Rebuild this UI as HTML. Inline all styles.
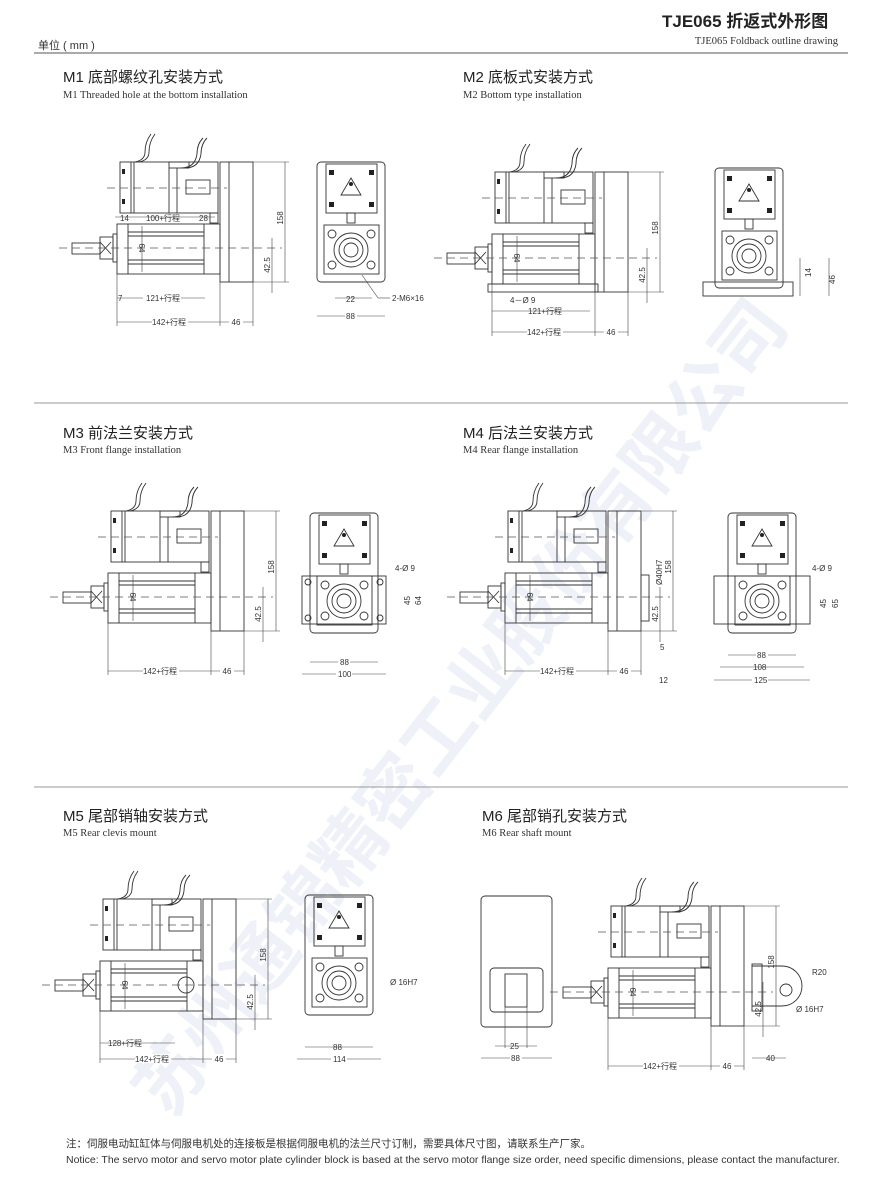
<!DOCTYPE html>
<html><head><meta charset="utf-8">
<style>
body{margin:0;background:#fff;}
svg{display:block;font-family:"Liberation Sans","Noto Sans CJK SC",sans-serif;}
.l{fill:none;stroke:#333;stroke-width:0.9}
.t{stroke:#444;stroke-width:0.6;fill:none}
.d{stroke:#555;stroke-width:0.7;stroke-dasharray:8 5;fill:none}
.s{font-size:8px;fill:#333}
.h{font-size:15px;fill:#222}
.e{font-family:"Liberation Serif",serif;font-size:10.5px;fill:#333}
</style></head><body>
<svg width="886" height="1183" viewBox="0 0 886 1183">
<defs>
<g id="side">
  <path class="l" d="M18,-86 q10,-2 10,-10 q0,-10 6,-18 M22,-86 q10,-2 10,-10 q0,-10 6,-18"/>
  <path class="l" d="M64,-80 q14,0 16,-14 q0,-10 6,-16 M68,-80 q14,0 16,-14 q0,-10 6,-16"/>
  <rect class="l" x="52" y="-86" width="20" height="6"/>
  <rect class="l" x="3" y="-86" width="98" height="51"/>
  <line class="l" x1="14" y1="-86" x2="14" y2="-35"/><line class="l" x1="17" y1="-86" x2="17" y2="-35"/>
  <line class="l" x1="52" y1="-80" x2="52" y2="-35"/><line class="l" x1="60" y1="-80" x2="60" y2="-35"/>
  <rect class="l" x="69" y="-68" width="24" height="14"/>
  <rect fill="#222" x="5" y="-79" width="3" height="5"/><rect fill="#222" x="5" y="-49" width="3" height="5"/>
  <rect class="l" x="93" y="-35" width="8" height="10"/>
  <rect class="l" x="103" y="-86" width="33" height="120"/>
  <line class="l" x1="112" y1="-86" x2="112" y2="34"/>
  <rect class="l" x="0" y="-24" width="103" height="50"/>
  <line class="l" x1="11" y1="-24" x2="11" y2="26"/>
  <line class="l" x1="11" y1="-16" x2="87" y2="-16"/><line class="l" x1="11" y1="-12" x2="87" y2="-12"/>
  <line class="l" x1="11" y1="12" x2="87" y2="12"/><line class="l" x1="11" y1="16" x2="87" y2="16"/>
  <line class="l" x1="87" y1="-24" x2="87" y2="26"/>
  <line class="t" x1="25" y1="-22" x2="25" y2="24"/>
  <text class="s" transform="translate(22,0) rotate(90)" text-anchor="middle">64</text>
  <rect class="l" x="-4" y="-14" width="4" height="28"/>
  <rect class="l" x="-17" y="-11" width="13" height="22"/>
  <path class="l" d="M-17,-6 L-6,6 M-17,6 L-6,-6"/>
  <rect class="l" x="-45" y="-5" width="28" height="11"/>
  <line class="d" x1="-58" y1="0" x2="165" y2="0"/>
  <line class="d" x1="-10" y1="-60" x2="110" y2="-60"/>
  <line class="t" x1="168" y1="-86" x2="168" y2="34"/>
  <line class="t" x1="136" y1="-86" x2="172" y2="-86"/><line class="t" x1="136" y1="34" x2="172" y2="34"/>
  <text class="s" transform="translate(166,-30) rotate(-90)" text-anchor="middle">158</text>
  <line class="t" x1="155" y1="-10" x2="155" y2="45"/>
  <text class="s" transform="translate(153,17) rotate(-90)" text-anchor="middle">42.5</text>
  <line class="t" x1="0" y1="26" x2="0" y2="78"/><line class="t" x1="103" y1="34" x2="103" y2="78"/><line class="t" x1="136" y1="34" x2="136" y2="78"/>
  <line class="t" x1="0" y1="74" x2="136" y2="74"/>
  <rect fill="#fff" x="35" y="69" width="36" height="9"/>
  <text class="s" x="52" y="77" text-anchor="middle">142+行程</text>
  <rect fill="#fff" x="112" y="69" width="14" height="9"/>
  <text class="s" x="119" y="77" text-anchor="middle">46</text>
</g>
<g id="front">
  <rect class="l" x="0" y="0" width="68" height="120" rx="4"/>
  <rect class="l" x="9" y="2" width="51" height="49"/>
  <path fill="#222" d="M12,8h5v5h-5zM52,8h5v5h-5zM12,40h5v5h-5zM52,40h5v5h-5z"/>
  <path class="l" d="M34,16 l10,17 h-20z"/>
  <circle fill="#222" cx="34" cy="22" r="2"/>
  <rect class="l" x="30" y="51" width="8" height="10"/>
  <rect class="l" x="7" y="63" width="55" height="49"/>
  <circle class="l" cx="15" cy="72" r="4"/><circle class="l" cx="54" cy="72" r="4"/>
  <circle class="l" cx="15" cy="103" r="4"/><circle class="l" cx="54" cy="103" r="4"/>
  <circle class="l" cx="34" cy="88" r="17"/><circle class="l" cx="34" cy="88" r="12"/><circle class="l" cx="34" cy="88" r="7"/>
</g>
</defs>

<text x="662" y="27" font-size="17" font-weight="bold" fill="#222">TJE065 折返式外形图</text>
<text x="838" y="44" text-anchor="end" class="e" font-size="10">TJE065  Foldback outline drawing</text>
<text x="38" y="49" font-size="11" fill="#333">单位 ( mm )</text>
<line x1="34" y1="53" x2="848" y2="53" stroke="#555" stroke-width="1"/>

<text x="0" y="0" transform="translate(170,1120) rotate(-52)" font-size="72" font-weight="bold" fill="#e3e8f5" opacity="0.6" font-family="'Noto Sans CJK SC',sans-serif">苏州通锦精密工业股份有限公司</text>

<text class="h" x="63" y="82">M1 底部螺纹孔安装方式</text><text class="e" x="63" y="98">M1 Threaded hole at the bottom installation</text>
<text class="h" x="463" y="82">M2 底板式安装方式</text><text class="e" x="463" y="98">M2 Bottom type installation</text>
<line x1="34" y1="403" x2="848" y2="403" stroke="#999" stroke-width="1"/>
<text class="h" x="63" y="438">M3 前法兰安装方式</text><text class="e" x="63" y="453">M3 Front flange installation</text>
<text class="h" x="463" y="438">M4 后法兰安装方式</text><text class="e" x="463" y="453">M4 Rear flange installation</text>
<line x1="34" y1="787" x2="848" y2="787" stroke="#999" stroke-width="1"/>
<text class="h" x="63" y="821">M5 尾部销轴安装方式</text><text class="e" x="63" y="836">M5 Rear clevis mount</text>
<text class="h" x="482" y="821">M6 尾部销孔安装方式</text><text class="e" x="482" y="836">M6 Rear shaft mount</text>

<use href="#side" transform="translate(117,248)"/>
<use href="#front" transform="translate(317,162)"/>
<text class="s" x="120" y="221">14</text><text class="s" x="146" y="221">100+行程</text><text class="s" x="199" y="221">28</text>
<line class="t" x1="115" y1="217" x2="215" y2="217"/>
<line class="t" x1="117" y1="298" x2="205" y2="298"/><rect fill="#fff" x="143" y="293" width="38" height="9"/>
<text class="s" x="118" y="301">7</text><text class="s" x="146" y="301">121+行程</text>
<line class="t" x1="317" y1="316" x2="385" y2="316"/><rect fill="#fff" x="345" y="311" width="12" height="9"/><text class="s" x="346" y="319">88</text>
<text class="s" x="346" y="302">22</text><line class="t" x1="335" y1="298" x2="372" y2="298"/>
<line class="t" x1="362" y1="275" x2="378" y2="298" /><line class="t" x1="378" y1="298" x2="390" y2="298"/>
<text class="s" x="392" y="301">2-M6×16</text>

<use href="#side" transform="translate(492,258)"/>
<rect class="l" x="488" y="284" width="110" height="8"/>
<use href="#front" transform="translate(715,168)"/>
<rect class="l" x="703" y="282" width="90" height="14"/>
<line class="t" x1="800" y1="258" x2="800" y2="296"/><text class="s" transform="translate(811,277) rotate(-90)">14</text>
<text class="s" transform="translate(835,284) rotate(-90)">46</text><line class="t" x1="829" y1="258" x2="829" y2="296"/>
<text class="s" x="510" y="303">4－Ø 9</text>
<text class="s" x="528" y="314">121+行程</text><line class="t" x1="492" y1="311" x2="590" y2="311"/>

<use href="#side" transform="translate(108,597)"/>
<use href="#front" transform="translate(310,513)"/>
<rect class="l" x="302" y="576" width="84" height="48"/>
<circle class="l" cx="308" cy="582" r="3"/><circle class="l" cx="380" cy="582" r="3"/><circle class="l" cx="308" cy="618" r="3"/><circle class="l" cx="380" cy="618" r="3"/>
<text class="s" x="395" y="571">4-Ø 9</text>
<text class="s" transform="translate(410,605) rotate(-90)">45</text><text class="s" transform="translate(421,605) rotate(-90)">64</text>
<line class="t" x1="310" y1="662" x2="378" y2="662"/><rect fill="#fff" x="338" y="657" width="12" height="9"/><text class="s" x="340" y="665">88</text>
<line class="t" x1="302" y1="674" x2="386" y2="674"/><rect fill="#fff" x="336" y="669" width="16" height="9"/><text class="s" x="338" y="677">100</text>

<use href="#side" transform="translate(505,597)"/>
<rect class="l" x="641" y="575" width="8" height="46"/>
<text class="s" transform="translate(662,585) rotate(-90)">Ø40H7</text>
<text class="s" x="660" y="650">5</text><text class="s" x="659" y="683">12</text>
<use href="#front" transform="translate(728,513)"/>
<rect class="l" x="714" y="576" width="96" height="48"/>
<text class="s" x="812" y="571">4-Ø 9</text>
<text class="s" transform="translate(826,608) rotate(-90)">45</text><text class="s" transform="translate(838,608) rotate(-90)">65</text>
<line class="t" x1="728" y1="655" x2="796" y2="655"/><rect fill="#fff" x="756" y="650" width="12" height="9"/><text class="s" x="757" y="658">88</text>
<line class="t" x1="720" y1="667" x2="804" y2="667"/><text class="s" x="753" y="670">108</text>
<line class="t" x1="714" y1="680" x2="810" y2="680"/><rect fill="#fff" x="752" y="675" width="16" height="9"/><text class="s" x="754" y="683">125</text>

<use href="#side" transform="translate(100,985)"/>
<circle class="l" cx="186" cy="985" r="8"/>
<text class="s" x="108" y="1046">128+行程</text><line class="t" x1="100" y1="1043" x2="175" y2="1043"/>
<use href="#front" transform="translate(305,895)"/>
<text class="s" x="390" y="985">Ø 16H7</text>
<line class="t" x1="305" y1="1047" x2="373" y2="1047"/><text class="s" x="333" y="1050">88</text>
<line class="t" x1="297" y1="1059" x2="381" y2="1059"/><rect fill="#fff" x="331" y="1054" width="16" height="9"/><text class="s" x="333" y="1062">114</text>

<rect class="l" x="481" y="896" width="71" height="131" rx="4"/>
<rect class="l" x="490" y="968" width="53" height="44" rx="4"/>
<rect class="l" x="505" y="974" width="22" height="33"/>
<line class="t" x1="505" y1="974" x2="505" y2="1048"/><line class="t" x1="527" y1="1007" x2="527" y2="1048"/>
<line class="t" x1="495" y1="1046" x2="537" y2="1046"/><text class="s" x="510" y="1049">25</text>
<line class="t" x1="481" y1="1058" x2="552" y2="1058"/><rect fill="#fff" x="510" y="1053" width="12" height="9"/><text class="s" x="511" y="1061">88</text>
<use href="#side" transform="translate(608,992)"/>
<path class="l" d="M752,966 h30 a20,20 0 0 1 0,40 h-30"/>
<rect class="l" x="752" y="964" width="10" height="47"/>
<circle class="l" cx="786" cy="990" r="6"/>
<text class="s" x="812" y="975">R20</text><text class="s" x="796" y="1012">Ø 16H7</text>
<text class="s" x="766" y="1061">40</text><line class="t" x1="752" y1="1058" x2="786" y2="1058"/>

<text x="66" y="1147" font-size="10.5" fill="#333">注：伺服电动缸缸体与伺服电机处的连接板是根据伺服电机的法兰尺寸订制，需要具体尺寸图，请联系生产厂家。</text>
<text x="66" y="1163" font-size="10.5" fill="#333">Notice: The servo motor and servo motor plate cylinder block is based at the servo motor flange size order, need specific dimensions,  please contact the manufacturer.</text>
</svg>
</body></html>
